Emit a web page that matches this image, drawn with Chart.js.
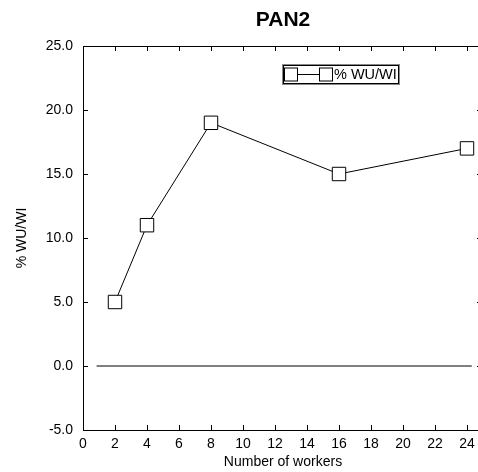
<!DOCTYPE html>
<html>
<head>
<meta charset="utf-8">
<title>PAN2</title>
<script src="https://cdn.jsdelivr.net/npm/chart.js@4.4.1/dist/chart.umd.min.js"></script>
<style>
  html, body { margin: 0; padding: 0; background: #fff; overflow: hidden; }
  #wrap { width: 490px; height: 472px; }
</style>
</head>
<body>
<div id="wrap"><canvas id="myChart" width="490" height="472"></canvas></div>
<script>
'use strict';
// data
var workers = [2, 4, 8, 16, 24];
var wuwi = [5, 11, 19, 15, 17];
var zeroLineX = [0.85, 24.3];
var zeroLineY = [0, 0];
var xTicks = [0, 2, 4, 6, 8, 10, 12, 14, 16, 18, 20, 22, 24];
var yTicks = [-5, 0, 5, 10, 15, 20, 25];
var seriesLabel = '% WU/WI';

var fontFamily = '"Liberation Sans", Arial, sans-serif';

function toPoints(xs, ys) {
  var pts = [];
  for (var i = 0; i < xs.length; i++) {
    pts.push({x: xs[i], y: ys[i]});
  }
  return pts;
}

// frame on four sides with ticks pointing inward, plus the boxed legend
var framePlugin = {
  id: 'frame',
  afterDraw: function(chart) {
    var ctx = chart.ctx;
    var a = chart.chartArea;
    var xs = chart.scales.x;
    var ys = chart.scales.y;
    var tl = 5;
    ctx.save();
    ctx.strokeStyle = '#000';
    ctx.lineWidth = 1;
    ctx.beginPath();
    ctx.rect(Math.round(a.left) + 0.5, Math.round(a.top) + 0.5, Math.round(a.right - a.left), Math.round(a.bottom - a.top));
    for (var i = 0; i < xTicks.length; i++) {
      var px = Math.round(xs.getPixelForValue(xTicks[i])) + 0.5;
      ctx.moveTo(px, a.top);
      ctx.lineTo(px, a.top + tl);
      ctx.moveTo(px, a.bottom);
      ctx.lineTo(px, a.bottom - tl);
    }
    for (var j = 0; j < yTicks.length; j++) {
      var py = Math.round(ys.getPixelForValue(yTicks[j])) + 0.5;
      ctx.moveTo(a.left, py);
      ctx.lineTo(a.left + tl, py);
      ctx.moveTo(a.right, py);
      ctx.lineTo(a.right - tl - 1, py);
    }
    ctx.stroke();

    // legend
    var bx = 282, by = 64, bw = 117, bh = 20;
    ctx.strokeStyle = '#888';
    ctx.strokeRect(bx + 0.5, by + 0.5, bw, bh);
    ctx.strokeStyle = '#000';
    ctx.strokeRect(bx + 1.5, by + 1.5, bw - 2, bh - 2);
    var cy = by + 10.5;
    ctx.beginPath();
    ctx.moveTo(290, cy);
    ctx.lineTo(326, cy);
    ctx.stroke();
    ctx.fillStyle = '#fff';
    ctx.fillRect(284.5, cy - 6.5, 13, 13);
    ctx.strokeRect(284.5, cy - 6.5, 13, 13);
    ctx.fillRect(319.5, cy - 6.5, 13, 13);
    ctx.strokeRect(319.5, cy - 6.5, 13, 13);
    ctx.fillStyle = '#000';
    ctx.font = '14.5px ' + fontFamily;
    ctx.textBaseline = 'middle';
    ctx.textAlign = 'left';
    ctx.fillText(chart.data.datasets[0].label, 334, cy);
    ctx.restore();
  }
};

var ctx = document.getElementById('myChart').getContext('2d');
var chart = new Chart(ctx, {
  type: 'line',
  data: {
    datasets: [
      {
        label: seriesLabel,
        data: toPoints(workers, wuwi),
        borderColor: '#000',
        borderWidth: 1,
        backgroundColor: '#fff',
        pointStyle: 'rect',
        pointRadius: 9.5,
        pointBorderWidth: 1,
        pointBorderColor: '#000',
        pointBackgroundColor: '#fff',
        tension: 0
      },
      {
        label: 'zero',
        data: toPoints(zeroLineX, zeroLineY),
        borderColor: '#000',
        borderWidth: 1,
        pointRadius: 0,
        tension: 0
      }
    ]
  },
  options: {
    responsive: false,
    animation: false,
    layout: { autoPadding: false, padding: { left: 0, right: 7, top: 0, bottom: 0 } },
    plugins: {
      legend: { display: false },
      tooltip: { enabled: false },
      title: {
        display: true,
        text: 'PAN2',
        fullSize: false,
        color: '#000',
        font: { family: fontFamily, size: 21, weight: 'bold' },
        padding: { top: 8, bottom: 12.8 }
      }
    },
    scales: {
      x: {
        type: 'linear',
        min: 0,
        max: 25,
        grid: { display: false, drawTicks: false },
        border: { display: false },
        afterFit: function(scale) {
          scale.height = 42;
          scale.paddingLeft = 0;
          scale.paddingRight = 0;
        },
        afterBuildTicks: function(scale) {
          scale.ticks = xTicks.map(function(v) { return {value: v}; });
        },
        ticks: {
          color: '#000',
          padding: 6,
          maxRotation: 0,
          font: { family: fontFamily, size: 14 }
        },
        title: {
          display: true,
          text: 'Number of workers',
          color: '#000',
          font: { family: fontFamily, size: 14 },
          padding: { top: 0, bottom: 1.6 }
        }
      },
      y: {
        type: 'linear',
        min: -5,
        max: 25,
        grid: { display: false, drawTicks: false },
        border: { display: false },
        afterFit: function(scale) { scale.width = 83; },
        afterBuildTicks: function(scale) {
          scale.ticks = yTicks.map(function(v) { return {value: v}; });
        },
        ticks: {
          color: '#000',
          padding: 10,
          font: { family: fontFamily, size: 14 },
          callback: function(value) { return Number(value).toFixed(1); }
        },
        title: {
          display: true,
          text: '% WU/WI',
          color: '#000',
          font: { family: fontFamily, size: 14 },
          padding: { top: 14, bottom: 0 }
        }
      }
    }
  },
  plugins: [framePlugin]
});
</script>
</body>
</html>
